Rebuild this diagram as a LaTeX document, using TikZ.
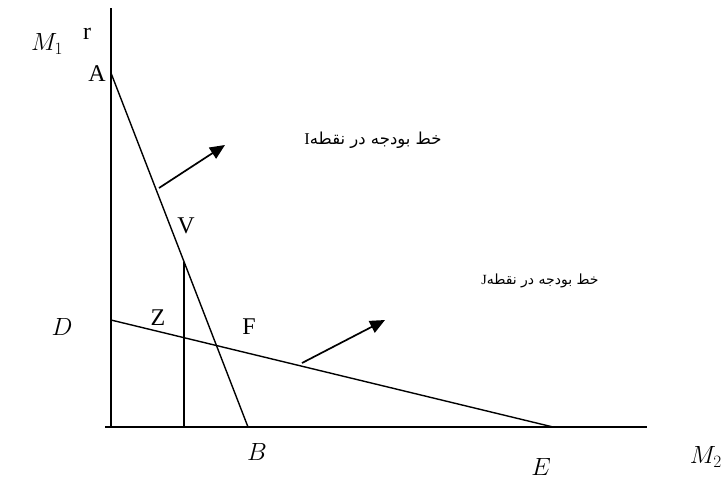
\documentclass[tikz,border=0pt]{standalone}
\usepackage{fontspec}
\setmainfont{Liberation Serif}
\newfontfamily\arabicfont[Script=Arabic]{DejaVu Sans}
\TeXXeTstate=1
\usetikzlibrary{arrows.meta}
\begin{document}
\begin{tikzpicture}[x=1pt,y=-1pt,
  axis/.style={line width=2pt},
  ln/.style={line width=1.4pt},
  arr/.style={line width=1.7pt,-{Triangle[length=15pt,width=13pt]}},
  lbl/.style={font=\fontsize{24}{27}\selectfont, inner sep=0pt},
  mlbl/.style={font=\fontsize{25}{28}\selectfont, inner sep=0pt},
  fa/.style={font=\fontsize{16.5}{19}\selectfont\arabicfont, inner sep=0pt},
  fasmall/.style={font=\fontsize{14}{17}\selectfont\arabicfont, inner sep=0pt}]
\useasboundingbox (0,0) rectangle (724,480);
% axes
\coordinate (top) at (111,8);
\coordinate (O) at (111,427);
\coordinate (left) at (105,427);
\coordinate (right) at (647,427);
\draw[axis] (top) -- (O);
\draw[axis] (left) -- (right);
% budget lines
\coordinate (A) at (111,73);
\coordinate (B) at (248,427);
\coordinate (V) at (184,262);
\coordinate (Vb) at (184,427);
\coordinate (D) at (111,320);
\coordinate (E) at (553,427);
\draw[ln] (A) -- (B);
\draw[ln] (D) -- (E);
\draw[ln] (V) -- (Vb);
% arrows
\coordinate (a1s) at (159,188);
\coordinate (a1e) at (225,145);
\coordinate (a2s) at (302,363);
\coordinate (a2e) at (385,320);
\draw[arr] (a1s) -- (a1e);
\draw[arr] (a2s) -- (a2e);
% labels
\node[mlbl] (lM1) at (47,44) {$M_1$};
\node[lbl] (lr) at (87,34) {r};
\node[lbl] (lA) at (97,74) {A};
\node[lbl] (lV) at (186,226) {V};
\node[lbl] (lZ) at (158,318) {Z};
\node[lbl] (lF) at (249,327) {F};
\node[mlbl] (lD) at (62,327) {$D$};
\node[mlbl] (lB) at (257,452) {$B$};
\node[mlbl] (lE) at (541,467) {$E$};
\node[mlbl, anchor=east] (lM2) at (722,457) {$M_2$};
\node[fa] (tI) at (373,140) {\beginR خط بودجه در نقطه{\rmfamily I}\endR};
\node[fasmall] (tJ) at (540,281) {\beginR خط بودجه در نقطه{\rmfamily J}\endR};
\end{tikzpicture}
\end{document}
